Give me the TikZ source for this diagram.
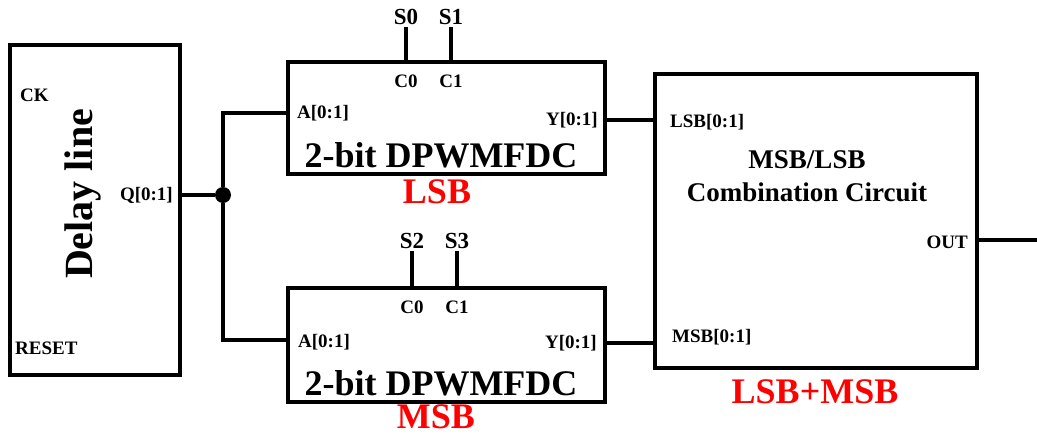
\documentclass[tikz,border=0pt]{standalone}
\usepackage{fontspec}
\setmainfont{Liberation Serif}
\usetikzlibrary{positioning}
\newcommand{\fsz}[1]{\fontsize{#1}{#1}\selectfont}

\begin{document}
\begin{tikzpicture}[x=1pt,y=-1pt,
  blk/.style={draw, line width=4.5pt, inner sep=0pt},
  wire/.style={line width=3.5pt},
  pin/.style={font=\bfseries\fsz{19}, inner sep=0pt},
  sel/.style={font=\bfseries\fsz{23}, inner sep=0pt},
  tag/.style={font=\bfseries\fsz{36}, text=red, inner sep=0pt}]
\useasboundingbox (0,0) rectangle (1037,437);
% blocks
\node[blk, minimum width=170pt, minimum height=330pt] (dly) at (95,210) {};
\node[blk, minimum width=317pt, minimum height=112pt] (lsb) at (446.5,118) {};
\node[blk, minimum width=317pt, minimum height=114pt] (msb) at (446.5,345) {};
\node[blk, minimum width=322pt, minimum height=294pt] (cmb) at (816,221) {};
% delay line
\node[pin, anchor=west] (ck) at (20,95) {CK};
\node[pin, anchor=west] (rst) at (15,348) {RESET};
\node[pin, anchor=east] (q) at (173,195) {Q[0:1]};
\node[font=\bfseries\fsz{40}, rotate=90, inner sep=0pt] (dlt) at (83,194) {Delay line};
% LSB converter
\node[sel] (s0) at (406,17) {S0};
\node[sel] (s1) at (451,17) {S1};
\node[pin] (lc0) at (406,81) {C0};
\node[pin] (lc1) at (451,81) {C1};
\node[pin, anchor=west] (la) at (297,113) {A[0:1]};
\node[pin, anchor=east] (ly) at (598,120) {Y[0:1]};
\node[font=\bfseries\fsz{36}, inner sep=0pt] (lname) at (441,155) {2-bit DPWMFDC};
\node[tag] (ltag) at (437,192) {LSB};
% MSB converter
\node[sel] (s2) at (412,241) {S2};
\node[sel] (s3) at (457,241) {S3};
\node[pin] (mc0) at (412,307) {C0};
\node[pin] (mc1) at (457,307) {C1};
\node[pin, anchor=west] (ma) at (298,342) {A[0:1]};
\node[pin, anchor=east] (my) at (597,343) {Y[0:1]};
\node[font=\bfseries\fsz{36}, inner sep=0pt] (mname) at (441,383) {2-bit DPWMFDC};
\node[tag] (mtag) at (436,417) {MSB};
% combination circuit
\node[pin, anchor=west] (cl) at (670,122) {LSB[0:1]};
\node[pin, anchor=west] (cm) at (672,337) {MSB[0:1]};
\node[pin, anchor=east] (co) at (968,242) {OUT};
\node[font=\bfseries\fsz{27}, inner sep=0pt, align=center] (cname) at (807,176)
  {MSB/LSB\\[6pt]Combination Circuit};
\node[tag] (ctag) at (815,392) {LSB+MSB};
% wires
\coordinate (qo) at (dly.east |- q);
\node[circle, fill, inner sep=0pt, minimum size=16pt] (jn) at (223,195) {};
\coordinate (lin) at (lsb.west |- 0,113);
\coordinate (min) at (msb.west |- 0,340);
\coordinate (lout) at (lsb.east |- 0,120);
\coordinate (mout) at (msb.east |- 0,343);
\coordinate (outr) at (1037,240);
\draw[wire] (qo) -- (jn);
\draw[wire] (jn) |- (lin);
\draw[wire] (jn) |- (min);
\draw[wire] (lout) -- (lout -| cmb.west);
\draw[wire] (mout) -- (mout -| cmb.west);
\draw[wire] (outr -| cmb.east) -- (outr);
\foreach \s in {s0,s1} \draw[wire] (\s.south) ++(0,2) -- (\s |- lsb.north);
\foreach \s in {s2,s3} \draw[wire] (\s.south) ++(0,2) -- (\s |- msb.north);
\end{tikzpicture}
\end{document}
